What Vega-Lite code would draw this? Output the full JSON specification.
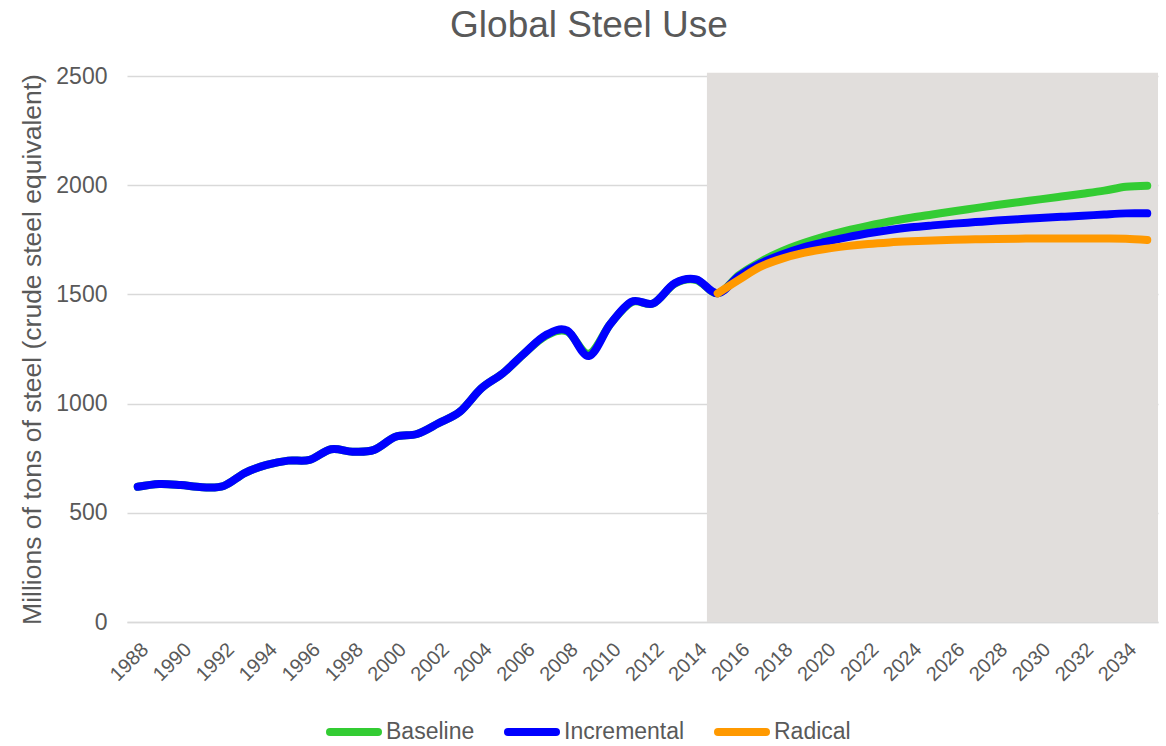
{
  "$schema": "https://vega.github.io/schema/vega-lite/v6.json",
  "autosize": {"type": "none"},
  "padding": {"left": 127, "top": 76, "right": 8, "bottom": 124},
  "width": 1031,
  "height": 546,
  "background": "white",
  "title": {
    "text": "Global Steel Use",
    "font": "Liberation Sans",
    "fontSize": 37,
    "fontWeight": "normal",
    "color": "#595959",
    "anchor": "middle",
    "frame": "bounds",
    "offset": 20
  },
  "config": {
    "view": {"stroke": null},
    "font": "Liberation Sans"
  },
  "datasets": {
    "shade": [{"start": 2014.5, "end": 2035.5, "low": 0, "high": 2515}],
    "steel": [
      {"year": 1988, "series": "Baseline", "value": 619},
      {"year": 1989, "series": "Baseline", "value": 632},
      {"year": 1990, "series": "Baseline", "value": 627},
      {"year": 1991, "series": "Baseline", "value": 617},
      {"year": 1992, "series": "Baseline", "value": 623},
      {"year": 1993, "series": "Baseline", "value": 683},
      {"year": 1994, "series": "Baseline", "value": 719},
      {"year": 1995, "series": "Baseline", "value": 739},
      {"year": 1996, "series": "Baseline", "value": 742},
      {"year": 1997, "series": "Baseline", "value": 791},
      {"year": 1998, "series": "Baseline", "value": 780},
      {"year": 1999, "series": "Baseline", "value": 788},
      {"year": 2000, "series": "Baseline", "value": 848},
      {"year": 2001, "series": "Baseline", "value": 861},
      {"year": 2002, "series": "Baseline", "value": 910},
      {"year": 2003, "series": "Baseline", "value": 963},
      {"year": 2004, "series": "Baseline", "value": 1070},
      {"year": 2005, "series": "Baseline", "value": 1139},
      {"year": 2006, "series": "Baseline", "value": 1230},
      {"year": 2007, "series": "Baseline", "value": 1310},
      {"year": 2008, "series": "Baseline", "value": 1330},
      {"year": 2009, "series": "Baseline", "value": 1228},
      {"year": 2010, "series": "Baseline", "value": 1364},
      {"year": 2011, "series": "Baseline", "value": 1465},
      {"year": 2012, "series": "Baseline", "value": 1459},
      {"year": 2013, "series": "Baseline", "value": 1549},
      {"year": 2014, "series": "Baseline", "value": 1566},
      {"year": 2015, "series": "Baseline", "value": 1505},
      {"year": 2016, "series": "Baseline", "value": 1589},
      {"year": 2017, "series": "Baseline", "value": 1650},
      {"year": 2018, "series": "Baseline", "value": 1698},
      {"year": 2019, "series": "Baseline", "value": 1735},
      {"year": 2020, "series": "Baseline", "value": 1766},
      {"year": 2021, "series": "Baseline", "value": 1792},
      {"year": 2022, "series": "Baseline", "value": 1814},
      {"year": 2023, "series": "Baseline", "value": 1834},
      {"year": 2024, "series": "Baseline", "value": 1851},
      {"year": 2025, "series": "Baseline", "value": 1866},
      {"year": 2026, "series": "Baseline", "value": 1881},
      {"year": 2027, "series": "Baseline", "value": 1895},
      {"year": 2028, "series": "Baseline", "value": 1909},
      {"year": 2029, "series": "Baseline", "value": 1922},
      {"year": 2030, "series": "Baseline", "value": 1935},
      {"year": 2031, "series": "Baseline", "value": 1948},
      {"year": 2032, "series": "Baseline", "value": 1961},
      {"year": 2033, "series": "Baseline", "value": 1975},
      {"year": 2034, "series": "Baseline", "value": 1993},
      {"year": 2035, "series": "Baseline", "value": 1998},
      {"year": 1988, "series": "Incremental", "value": 619},
      {"year": 1989, "series": "Incremental", "value": 632},
      {"year": 1990, "series": "Incremental", "value": 627},
      {"year": 1991, "series": "Incremental", "value": 617},
      {"year": 1992, "series": "Incremental", "value": 623},
      {"year": 1993, "series": "Incremental", "value": 683},
      {"year": 1994, "series": "Incremental", "value": 719},
      {"year": 1995, "series": "Incremental", "value": 739},
      {"year": 1996, "series": "Incremental", "value": 742},
      {"year": 1997, "series": "Incremental", "value": 791},
      {"year": 1998, "series": "Incremental", "value": 780},
      {"year": 1999, "series": "Incremental", "value": 788},
      {"year": 2000, "series": "Incremental", "value": 848},
      {"year": 2001, "series": "Incremental", "value": 861},
      {"year": 2002, "series": "Incremental", "value": 910},
      {"year": 2003, "series": "Incremental", "value": 963},
      {"year": 2004, "series": "Incremental", "value": 1070},
      {"year": 2005, "series": "Incremental", "value": 1139},
      {"year": 2006, "series": "Incremental", "value": 1230},
      {"year": 2007, "series": "Incremental", "value": 1314},
      {"year": 2008, "series": "Incremental", "value": 1334},
      {"year": 2009, "series": "Incremental", "value": 1218},
      {"year": 2010, "series": "Incremental", "value": 1364},
      {"year": 2011, "series": "Incremental", "value": 1467},
      {"year": 2012, "series": "Incremental", "value": 1459},
      {"year": 2013, "series": "Incremental", "value": 1551},
      {"year": 2014, "series": "Incremental", "value": 1569},
      {"year": 2015, "series": "Incremental", "value": 1505},
      {"year": 2016, "series": "Incremental", "value": 1584},
      {"year": 2017, "series": "Incremental", "value": 1642},
      {"year": 2018, "series": "Incremental", "value": 1683},
      {"year": 2019, "series": "Incremental", "value": 1716},
      {"year": 2020, "series": "Incremental", "value": 1740},
      {"year": 2021, "series": "Incremental", "value": 1761},
      {"year": 2022, "series": "Incremental", "value": 1780},
      {"year": 2023, "series": "Incremental", "value": 1795},
      {"year": 2024, "series": "Incremental", "value": 1807},
      {"year": 2025, "series": "Incremental", "value": 1816},
      {"year": 2026, "series": "Incremental", "value": 1824},
      {"year": 2027, "series": "Incremental", "value": 1831},
      {"year": 2028, "series": "Incremental", "value": 1838},
      {"year": 2029, "series": "Incremental", "value": 1844},
      {"year": 2030, "series": "Incremental", "value": 1850},
      {"year": 2031, "series": "Incremental", "value": 1855},
      {"year": 2032, "series": "Incremental", "value": 1860},
      {"year": 2033, "series": "Incremental", "value": 1866},
      {"year": 2034, "series": "Incremental", "value": 1871},
      {"year": 2035, "series": "Incremental", "value": 1871},
      {"year": 2015, "series": "Radical", "value": 1505},
      {"year": 2016, "series": "Radical", "value": 1568},
      {"year": 2017, "series": "Radical", "value": 1627},
      {"year": 2018, "series": "Radical", "value": 1664},
      {"year": 2019, "series": "Radical", "value": 1690},
      {"year": 2020, "series": "Radical", "value": 1708},
      {"year": 2021, "series": "Radical", "value": 1721},
      {"year": 2022, "series": "Radical", "value": 1731},
      {"year": 2023, "series": "Radical", "value": 1738},
      {"year": 2024, "series": "Radical", "value": 1743},
      {"year": 2025, "series": "Radical", "value": 1747},
      {"year": 2026, "series": "Radical", "value": 1750},
      {"year": 2027, "series": "Radical", "value": 1752},
      {"year": 2028, "series": "Radical", "value": 1754},
      {"year": 2029, "series": "Radical", "value": 1755},
      {"year": 2030, "series": "Radical", "value": 1756},
      {"year": 2031, "series": "Radical", "value": 1756},
      {"year": 2032, "series": "Radical", "value": 1756},
      {"year": 2033, "series": "Radical", "value": 1756},
      {"year": 2034, "series": "Radical", "value": 1755},
      {"year": 2035, "series": "Radical", "value": 1749}
    ]
  },
  "layer": [
    {
      "data": {"name": "shade"},
      "mark": {"type": "rect", "color": "#E1DEDC"},
      "encoding": {
        "x": {"field": "start", "type": "quantitative", "scale": {"domain": [1987.5, 2035.5], "nice": false, "zero": false}},
        "x2": {"field": "end"},
        "y": {"field": "low", "type": "quantitative", "scale": {"domain": [0, 2500], "nice": false}},
        "y2": {"field": "high"}
      }
    },
    {
      "data": {"name": "steel"},
      "mark": {"type": "line", "strokeWidth": 8, "strokeCap": "round", "strokeJoin": "round", "interpolate": "cardinal"},
      "encoding": {
        "x": {
          "field": "year",
          "type": "quantitative",
          "scale": {"domain": [1987.5, 2035.5], "nice": false, "zero": false},
          "axis": {
            "title": null,
            "values": [1988, 1990, 1992, 1994, 1996, 1998, 2000, 2002, 2004, 2006, 2008, 2010, 2012, 2014, 2016, 2018, 2020, 2022, 2024, 2026, 2028, 2030, 2032, 2034],
            "format": "d",
            "labelAngle": -45,
            "labelFontSize": 20,
            "labelColor": "#595959",
            "labelFont": "Liberation Sans",
            "labelPadding": 17,
            "ticks": false,
            "grid": false,
            "domainColor": "#D9D9D9",
            "domainWidth": 1.5,
            "labelOverlap": false,
            "labelFlush": false
          }
        },
        "y": {
          "field": "value",
          "type": "quantitative",
          "scale": {"domain": [0, 2500], "nice": false},
          "axis": {
            "title": "Millions of tons of steel (crude steel equivalent)",
            "titleFontSize": 26.5,
            "titleFontWeight": "normal",
            "titleColor": "#595959",
            "titleFont": "Liberation Sans",
            "titlePadding": 9,
            "values": [0, 500, 1000, 1500, 2000, 2500],
            "format": "d",
            "labelFontSize": 23,
            "labelColor": "#595959",
            "labelFont": "Liberation Sans",
            "labelPadding": 20,
            "ticks": false,
            "domain": false,
            "gridColor": "#D9D9D9",
            "gridWidth": 1.5
          }
        },
        "color": {
          "field": "series",
          "type": "nominal",
          "scale": {"domain": ["Baseline", "Incremental", "Radical"], "range": ["#33CC33", "#0000FF", "#FF9900"]},
          "legend": {
            "title": null,
            "orient": "none",
            "direction": "horizontal",
            "legendX": 199,
            "legendY": 628,
            "symbolType": "stroke",
            "symbolSize": 2304,
            "symbolStrokeWidth": 8,
            "labelFontSize": 23,
            "labelColor": "#595959",
            "labelFont": "Liberation Sans",
            "labelOffset": 4,
            "columnPadding": 17,
            "encode": {"symbols": {"update": {"strokeCap": {"value": "round"}}}}
          }
        }
      }
    }
  ]
}
